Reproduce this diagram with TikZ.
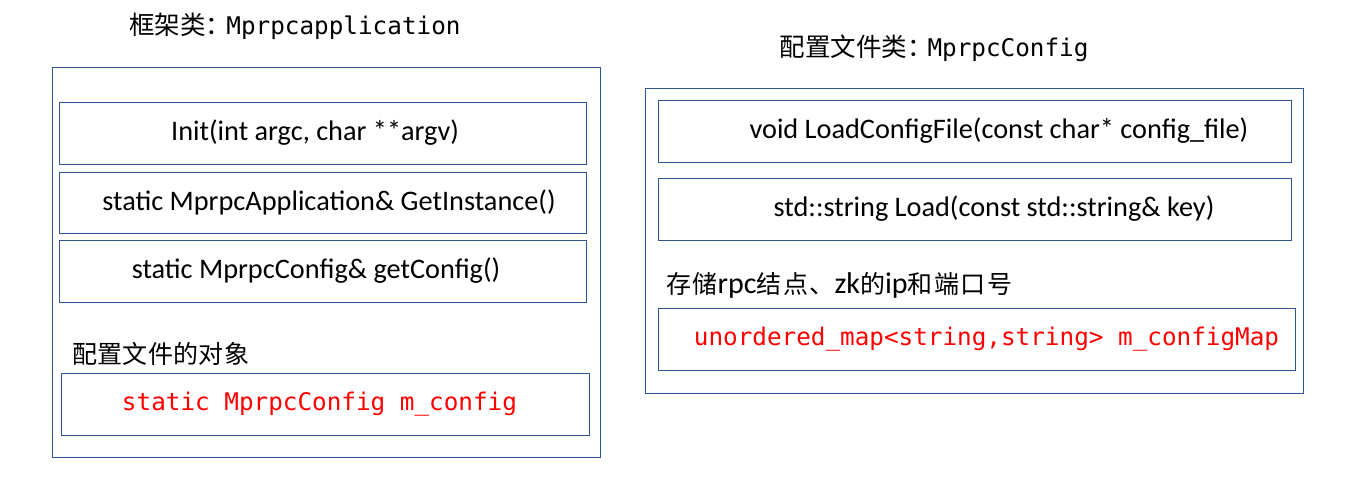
\documentclass[tikz,border=0pt]{standalone}
\usepackage{fontspec}
\setmainfont{Carlito}
\setmonofont{DejaVu Sans Mono}
\newfontfamily\cjk{Noto Sans CJK SC}
\newfontfamily\latinnote{Carlito}
\definecolor{bord}{RGB}{47,85,151}
\definecolor{redtxt}{RGB}{255,0,0}
\newcommand{\ltn}[1]{{\latinnote\fontsize{30}{30}\selectfont #1}}
\begin{document}
\begin{tikzpicture}[x=1pt,y=-1pt,
  outerbox/.style={draw=bord,line width=1pt,inner sep=0pt,anchor=north west},
  membox/.style={draw=bord,line width=1pt,inner sep=0pt,anchor=center,font=\fontsize{28.3}{32}\selectfont},
  redbox/.style={membox,text=redtxt,font=\ttfamily\fontsize{24.3}{28}\selectfont},
  title/.style={inner sep=0pt,anchor=center,font=\fontsize{24.3}{28}\selectfont},
  note/.style={inner sep=0pt,anchor=west,font=\cjk\fontsize{25}{30}\selectfont}]
\useasboundingbox (0,0) rectangle (1346,485);
% left class
\node[title] (tl) at (295,26) {{\cjk\fontsize{25.5}{30}\selectfont 框架类：}\hspace{-5pt}\texttt{Mprpcapplication}};
\node[outerbox,minimum width=548,minimum height=390] (L) at (52,67) {};
\node[membox,minimum width=527,minimum height=62] (l1) at (322.5,133) {\hspace*{-15pt}Init(int argc, char **argv)};
\node[membox,minimum width=527,minimum height=61] (l2) at (322.5,202.5) {\hspace*{13pt}static MprpcApplication\& GetInstance()};
\node[membox,minimum width=527,minimum height=62] (l3) at (322.5,271) {\hspace*{-13pt}static MprpcConfig\& getConfig()};
\node[note] (ln) at (72,354) {配\hspace{0.3pt}置\hspace{0.3pt}文\hspace{0.3pt}件\hspace{0.3pt}的\hspace{0.3pt}对\hspace{0.3pt}象};
\node[redbox,minimum width=528,minimum height=62] (l4) at (325,404) {\hspace*{-11pt}static MprpcConfig m\_config};
% right class
\node[title] (tr) at (934,48) {{\cjk\fontsize{25.5}{30}\selectfont 配置文件类：}\hspace{-5pt}\texttt{MprpcConfig}};
\node[outerbox,minimum width=658,minimum height=305] (R) at (645,88) {};
\node[membox,minimum width=633,minimum height=62] (r1) at (974.5,131) {\hspace*{49pt}void LoadConfigFile(const char* config\_file)};
\node[membox,minimum width=633,minimum height=62] (r2) at (974.5,209) {\hspace*{39pt}std::string Load(const std::string\& key)};
\node[note] (rn) at (666,285) {存\hspace{1.5pt}储\ltn{rpc}结\hspace{1.5pt}点\hspace{1.5pt}、\ltn{zk}的\ltn{ip}和\hspace{1.5pt}端\hspace{1.5pt}口\hspace{1.5pt}号};
\node[redbox,minimum width=637,minimum height=62] (r3) at (976.5,339) {\hspace*{20pt}unordered\_map<string,string> m\_configMap};
\end{tikzpicture}
\end{document}
